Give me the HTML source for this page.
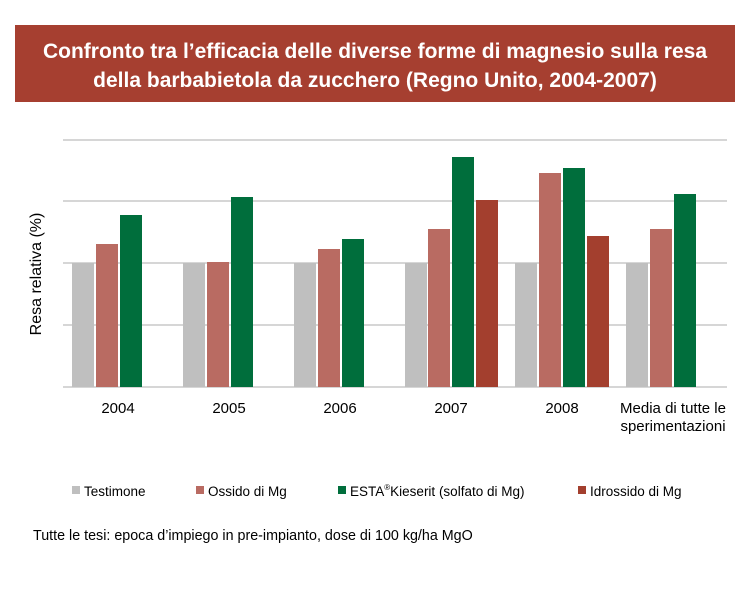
<!DOCTYPE html>
<html><head><meta charset="utf-8"><style>
body{margin:0;background:#fff;width:750px;height:600px;overflow:hidden;font-family:"Liberation Sans",sans-serif;}
</style></head><body>
<svg width="750" height="600" xmlns="http://www.w3.org/2000/svg" font-family="Liberation Sans, sans-serif">
<rect x="15" y="25" width="720" height="77" fill="#a63f30"/>
<text x="375" y="58" text-anchor="middle" fill="#fff" font-size="21" font-weight="bold">Confronto tra l’efficacia delle diverse forme di magnesio sulla resa</text>
<text x="375" y="87" text-anchor="middle" fill="#fff" font-size="21" font-weight="bold">della barbabietola da zucchero (Regno Unito, 2004-2007)</text>
<g stroke="#c8c8c8" stroke-width="1.5">
<line x1="63" y1="140" x2="727" y2="140"/><line x1="63" y1="201" x2="727" y2="201"/>
<line x1="63" y1="263" x2="727" y2="263"/><line x1="63" y1="325" x2="727" y2="325"/>
<line x1="63" y1="387" x2="727" y2="387"/></g>
<g fill="#bfbfbf">
<rect x="72" y="263" width="22" height="124"/><rect x="183" y="263" width="22" height="124"/>
<rect x="294" y="263" width="22" height="124"/><rect x="405" y="263" width="22" height="124"/>
<rect x="515" y="263" width="22" height="124"/><rect x="626" y="263" width="22" height="124"/></g>
<g fill="#b96b62">
<rect x="96" y="244" width="22" height="143"/><rect x="207" y="262" width="22" height="125"/>
<rect x="318" y="249" width="22" height="138"/><rect x="428" y="229" width="22" height="158"/>
<rect x="539" y="173" width="22" height="214"/><rect x="650" y="229" width="22" height="158"/></g>
<g fill="#006e3c">
<rect x="120" y="215" width="22" height="172"/><rect x="231" y="197" width="22" height="190"/>
<rect x="342" y="239" width="22" height="148"/><rect x="452" y="157" width="22" height="230"/>
<rect x="563" y="168" width="22" height="219"/><rect x="674" y="194" width="22" height="193"/></g>
<g fill="#a33f2e">
<rect x="476" y="200" width="22" height="187"/><rect x="587" y="236" width="22" height="151"/></g>
<g font-size="15" fill="#000" text-anchor="middle">
<text x="118" y="413">2004</text><text x="229" y="413">2005</text><text x="340" y="413">2006</text>
<text x="451" y="413">2007</text><text x="562" y="413">2008</text>
<text x="673" y="413">Media di tutte le</text><text x="673" y="431">sperimentazioni</text></g>
<text transform="translate(41,274) rotate(-90)" text-anchor="middle" font-size="16">Resa relativa (%)</text>
<g font-size="13.5">
<rect x="72" y="486" width="8" height="8" fill="#bfbfbf"/><text x="84" y="496">Testimone</text>
<rect x="196" y="486" width="8" height="8" fill="#b96b62"/><text x="208" y="496">Ossido di Mg</text>
<rect x="338" y="486" width="8" height="8" fill="#006e3c"/><text x="350" y="496">ESTA<tspan font-size="8" dy="-6">®</tspan><tspan dy="6">Kieserit (solfato di Mg)</tspan></text>
<rect x="578" y="486" width="8" height="8" fill="#a33f2e"/><text x="590" y="496">Idrossido di Mg</text></g>
<text x="33" y="540" font-size="14.3">Tutte le tesi: epoca d’impiego in pre-impianto, dose di 100 kg/ha MgO</text>
</svg>
</body></html>
